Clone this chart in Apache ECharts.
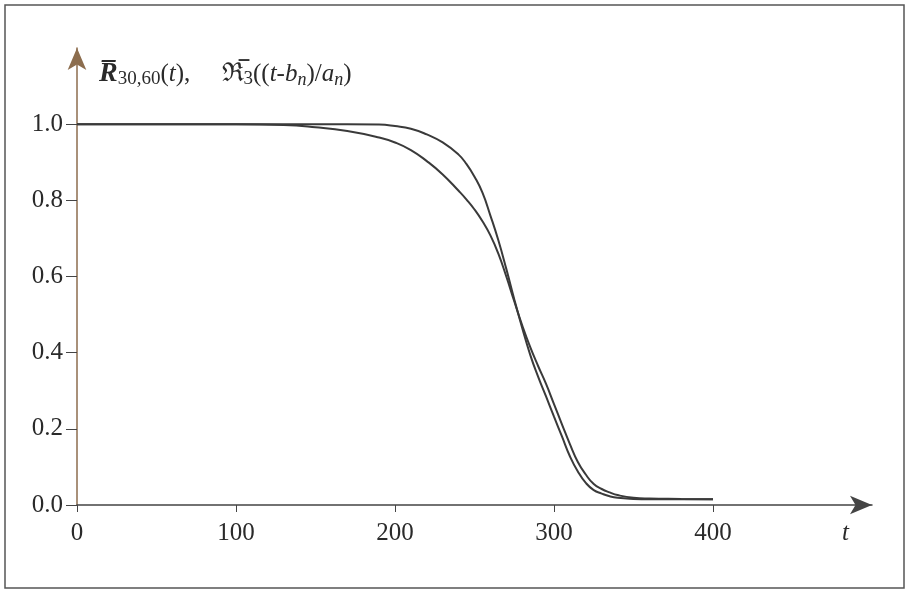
<!DOCTYPE html>
<html>
<head>
<meta charset="utf-8">
<script src="https://cdn.jsdelivr.net/npm/echarts@6/dist/echarts.min.js"></script>
<style>
html,body{margin:0;padding:0;background:#fff;}
#chart{width:908px;height:591px;}
</style>
</head>
<body>
<div id="chart"></div>
<script>
// time points t
var tValues = [0, 50, 100, 130, 150, 170, 190, 200, 210, 220, 230, 240, 245, 250, 255, 260, 265, 270, 275, 280, 285, 290, 295, 300, 305, 310, 315, 320, 325, 330, 335, 340, 350, 360, 380, 400];
// R̄_{30,60}(t) (begins to decline earlier)
var seriesR = [1.0, 1.0, 1.0, 0.998, 0.992, 0.982, 0.965, 0.952, 0.932, 0.903, 0.868, 0.825, 0.802, 0.776, 0.745, 0.708, 0.66, 0.60, 0.535, 0.472, 0.415, 0.365, 0.318, 0.265, 0.212, 0.16, 0.113, 0.08, 0.055, 0.042, 0.033, 0.026, 0.019, 0.017, 0.016, 0.015];
// ℜ̄_3((t-b_n)/a_n) (steeper)
var seriesFrak = [1.0, 1.0, 1.0, 1.0, 1.0, 1.0, 0.999, 0.995, 0.988, 0.973, 0.952, 0.92, 0.895, 0.862, 0.82, 0.76, 0.695, 0.62, 0.54, 0.465, 0.395, 0.337, 0.285, 0.232, 0.18, 0.128, 0.088, 0.058, 0.039, 0.030, 0.023, 0.019, 0.016, 0.015, 0.015, 0.015];
var xTicks = [0, 100, 200, 300, 400];
var yTicks = [0, 0.2, 0.4, 0.6, 0.8, 1.0];

function pairs(ys) { return tValues.map(function (t, i) { return [t, ys[i]]; }); }

var serif = 'Liberation Serif';
var ink = '#2a2a2a';
var chart = echarts.init(document.getElementById('chart'), null, {renderer: 'canvas'});
chart.setOption({
  animation: false,
  backgroundColor: '#ffffff',
  title: {
    left: 94, top: 54,
    text: '{Rb|R\u0305}{sub|30,60}{n|(}{i|t}{n|),     }{fr|\u211C\u0305}{sub|3}{n|((}{i|t}{n|-}{i|b}{isub|n}{n|)/}{i|a}{isub|n}{n|)}',
    textStyle: {
      fontWeight: 'normal',
      rich: {
        Rb: {fontFamily: serif, fontSize: 28, fontWeight: 'bold', fontStyle: 'italic', color: ink, lineHeight: 30},
        n: {fontFamily: serif, fontSize: 25, fontWeight: 'normal', color: ink, lineHeight: 30},
        i: {fontFamily: serif, fontSize: 25, fontWeight: 'normal', fontStyle: 'italic', color: ink, lineHeight: 30},
        fr: {fontFamily: 'DejaVu Serif', fontSize: 26, fontWeight: 'normal', color: ink, lineHeight: 30},
        sub: {fontFamily: serif, fontSize: 19, fontWeight: 'normal', color: ink, verticalAlign: 'bottom', lineHeight: 24},
        isub: {fontFamily: serif, fontSize: 18, fontWeight: 'normal', fontStyle: 'italic', color: ink, verticalAlign: 'bottom', lineHeight: 22}
      }
    }
  },
  graphic: [{
    type: 'rect', silent: true,
    shape: {x: 5, y: 5, width: 899, height: 583},
    style: {fill: 'none', stroke: '#555', lineWidth: 1.5}
  }],
  grid: {left: 77, right: 36, top: 48, bottom: 86, containLabel: false},
  xAxis: {
    type: 'value', min: 0, max: 500,
    name: 't', nameLocation: 'end', nameGap: -30,
    nameTextStyle: {fontFamily: serif, fontSize: 25, fontStyle: 'italic', color: ink, verticalAlign: 'top', padding: [16, 0, 0, 0]},
    axisLine: {lineStyle: {color: '#444', width: 1.5}, symbol: ['none', 'arrow'], symbolSize: [14, 22], symbolOffset: [0, 0]},
    axisTick: {show: true, inside: false, length: 7, customValues: xTicks, lineStyle: {color: '#444', width: 1}},
    axisLabel: {customValues: xTicks, margin: 16, fontFamily: serif, fontSize: 25, color: ink},
    splitLine: {show: false}
  },
  yAxis: {
    type: 'value', min: 0, max: 1.2,
    axisLine: {lineStyle: {color: '#8c6d4e', width: 1.5}, symbol: ['none', 'arrow'], symbolSize: [14, 22], symbolOffset: [0, 0]},
    axisTick: {show: true, inside: false, length: 11, customValues: yTicks, lineStyle: {color: '#444', width: 1}},
    axisLabel: {customValues: yTicks, margin: 14, fontFamily: serif, fontSize: 25, color: ink,
      formatter: function (v) { return v.toFixed(1); }},
    splitLine: {show: false}
  },
  series: [
    {type: 'line', name: 'R30,60', data: pairs(seriesR), showSymbol: false, smooth: 0.5,
      lineStyle: {color: '#3a3a3a', width: 2}},
    {type: 'line', name: 'R3', data: pairs(seriesFrak), showSymbol: false, smooth: 0.5,
      lineStyle: {color: '#3a3a3a', width: 2}}
  ]
});
</script>
</body>
</html>
